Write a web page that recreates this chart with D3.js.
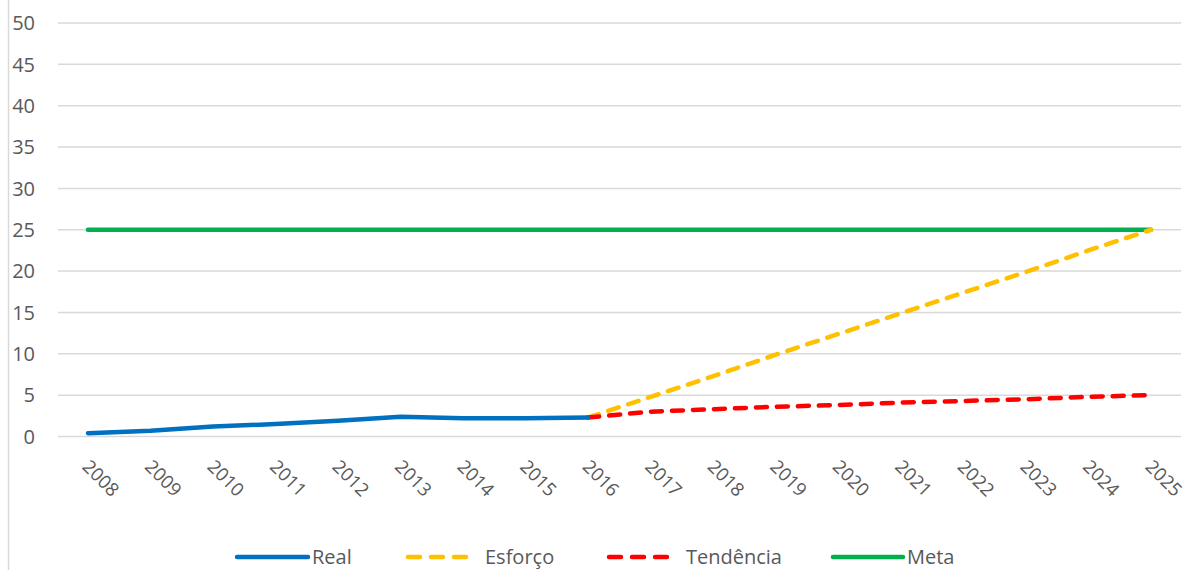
<!DOCTYPE html>
<html><head><meta charset="utf-8">
<script src="https://cdn.jsdelivr.net/npm/d3@7"></script>
<style>body{margin:0;background:#fff}svg{display:block;font-family:"Open Sans",sans-serif}</style>
</head><body><svg id="c" width="1187" height="570"></svg>
<script>
const years = ["2008","2009","2010","2011","2012","2013","2014","2015","2016","2017","2018","2019","2020","2021","2022","2023","2024","2025"];
const realValues = [0.4,0.7,1.2,1.5,1.9,2.4,2.2,2.2,2.3];
const esforcoValues = [null,null,null,null,null,null,null,null,2.3,4.8,7.3,9.9,12.4,14.9,17.4,19.9,22.5,25];
const tendenciaValues = [null,null,null,null,null,null,null,null,2.3,3.0,3.3,3.6,3.8,4.1,4.3,4.5,4.8,5.0];
const metaValues = [25,25,25,25,25,25,25,25,25,25,25,25,25,25,25,25,25,25];
const yTicks = [0,5,10,15,20,25,30,35,40,45,50];

const svg = d3.select("#c");
const textColor = "#595959";
const x = d3.scalePoint().domain(years).range([88, 1151]);
const y = d3.scaleLinear().domain([0,50]).range([436.5, 23]);

// chart border line at left
svg.append("line").attr("x1",8.5).attr("x2",8.5).attr("y1",0).attr("y2",570).attr("stroke","#d9d9d9").attr("stroke-width",1.5);

// gridlines
svg.append("g").selectAll("line").data(yTicks).join("line")
  .attr("x1",58).attr("x2",1181).attr("y1",d=>y(d)).attr("y2",d=>y(d))
  .attr("stroke","#d9d9d9").attr("stroke-width",1.5);

// y labels
svg.append("g").selectAll("text").data(yTicks).join("text")
  .attr("x",35).attr("y",d=>y(d)).attr("dy","0.36em").attr("text-anchor","end")
  .attr("fill",textColor).attr("font-size",20).text(d=>d);

// x labels
svg.append("g").selectAll("text").data(years).join("text")
  .attr("transform",d=>`translate(${x(d)+3},${458}) rotate(45)`)
  .attr("dy","0.75em").attr("text-anchor","start")
  .attr("fill",textColor).attr("font-size",18.5).text(d=>d);

function series(vals, color, dash){
  const data = vals.map((v,i)=>({k:years[i],v})).filter(d=>d.v!==null);
  const line = d3.line().x(d=>x(d.k)).y(d=>y(d.v));
  svg.append("path").datum(data).attr("d",line).attr("fill","none")
    .attr("stroke",color).attr("stroke-width",4.5).attr("stroke-linecap","round").attr("stroke-linejoin","round")
    .attr("stroke-dasharray",dash||null);
}
series(metaValues,"#00B050");
series(esforcoValues,"#FFC000","11,10");
series(tendenciaValues,"#FF0000","11,10");
series(realValues,"#0070C0");

// legend
const legend = [
  {name:"Real",color:"#0070C0",dash:null,x1:237,x2:308,tx:312},
  {name:"Esforço",color:"#FFC000",dash:"12,11",x1:408,x2:467,tx:485},
  {name:"Tendência",color:"#FF0000",dash:"12,11",x1:609,x2:669,tx:686},
  {name:"Meta",color:"#00B050",dash:null,x1:833,x2:903,tx:907}
];
const ly = 557;
const lg = svg.append("g");
legend.forEach(l=>{
  lg.append("line").attr("x1",l.x1).attr("x2",l.x2).attr("y1",ly).attr("y2",ly)
    .attr("stroke",l.color).attr("stroke-width",4.5).attr("stroke-linecap","round")
    .attr("stroke-dasharray",l.dash);
  lg.append("text").attr("x",l.tx).attr("y",ly).attr("dy","0.36em")
    .attr("fill",textColor).attr("font-size",20).text(l.name);
});
</script></body></html>
